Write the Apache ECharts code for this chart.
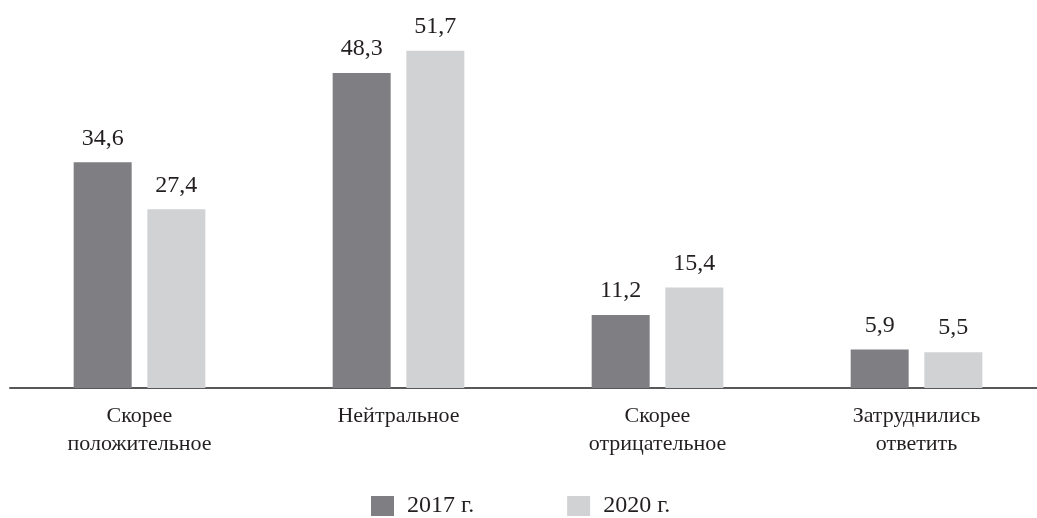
<!DOCTYPE html>
<html>
<head>
<meta charset="utf-8">
<script src="https://cdn.jsdelivr.net/npm/echarts@6/dist/echarts.min.js"></script>
<style>
  html, body { margin: 0; padding: 0; background: #fff; overflow: hidden; }
  #container { width: 1050px; height: 518px; }
</style>
</head>
<body>
<div id="container"></div>
<script>
var categories = ['Скорее\nположительное', 'Нейтральное', 'Скорее\nотрицательное', 'Затруднились\nответить'];
var seriesNames = ['2017 г.', '2020 г.'];
var values2017 = [34.6, 48.3, 11.2, 5.9];
var values2020 = [27.4, 51.7, 15.4, 5.5];

function grafico() {
    var dom = document.getElementById('container');
    var myChart = echarts.init(dom);
    var font = '"Liberation Serif", "DejaVu Serif", serif';
    var labelStyle = {
        show: true,
        position: 'top',
        distance: 12,
        fontFamily: font,
        fontSize: 24,
        color: '#231f20',
        formatter: function (p) { return String(p.value).replace('.', ','); }
    };
    var option = {
        animation: false,
        textStyle: { fontFamily: font },
        legend: {
            top: 489,
            left: 366,
            itemWidth: 23,
            itemHeight: 20,
            itemGap: 93,
            icon: 'rect',
            textStyle: { fontFamily: font, fontSize: 24, color: '#231f20', padding: [0, 0, 0, 8] },
            data: seriesNames
        },
        grid: { left: 10, top: 0, width: 1036, height: 388, containLabel: false },
        xAxis: {
            type: 'category',
            data: categories,
            axisLine: { lineStyle: { color: '#58585a', width: 2 } },
            axisTick: { show: false },
            axisLabel: {
                margin: 14,
                fontFamily: font,
                fontSize: 22,
                lineHeight: 28,
                color: '#231f20'
            }
        },
        yAxis: {
            type: 'value',
            min: 0,
            max: 59.5,
            show: false,
            splitLine: { show: false }
        },
        series: [{
            name: seriesNames[0],
            type: 'bar',
            data: values2017,
            barWidth: 58,
            barGap: '27%',
            itemStyle: { color: '#7f7f83' },
            label: labelStyle
        }, {
            name: seriesNames[1],
            type: 'bar',
            data: values2020,
            barWidth: 58,
            barGap: '27%',
            itemStyle: { color: '#d1d2d4' },
            label: labelStyle
        }]
    };
    if (option && typeof option === 'object') {
        myChart.setOption(option);
    }
}
grafico();
</script>
</body>
</html>
